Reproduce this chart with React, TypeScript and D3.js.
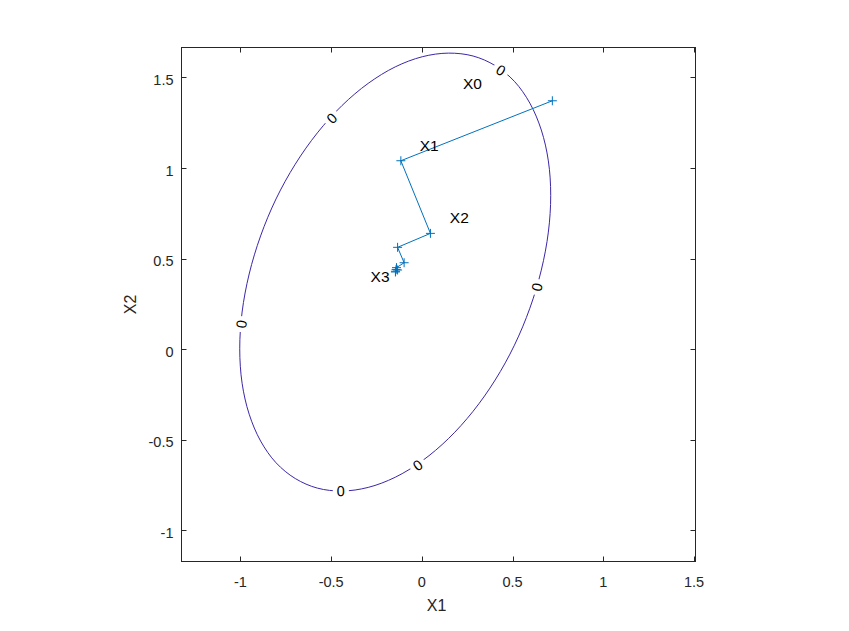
import React from 'react';
import * as d3 from 'd3';

const W = 849;
const H = 631;
const X_DOMAIN: [number, number] = [-1.325, 1.508];
const Y_DOMAIN: [number, number] = [-1.172, 1.665];
const X_TICKS = [-1, -0.5, 0, 0.5, 1, 1.5];
const Y_TICKS = [-1, -0.5, 0, 0.5, 1, 1.5];
const X_LABEL = 'X1';
const Y_LABEL = 'X2';

// contour line (level 0) vertices
const contourX = [0.710, 0.697, 0.658, 0.595, 0.510, 0.404, 0.282, 0.146, 0.002, -0.147, -0.296, -0.440,
  -0.576, -0.698, -0.804, -0.889, -0.952, -0.991, -1.004, -0.991, -0.952, -0.889, -0.804, -0.698,
  -0.576, -0.440, -0.296, -0.147, 0.002, 0.146, 0.282, 0.404, 0.510, 0.595, 0.658, 0.697];
const contourY = [0.849, 1.039, 1.210, 1.358, 1.478, 1.565, 1.618, 1.634, 1.614, 1.558, 1.467, 1.345,
  1.194, 1.021, 0.829, 0.625, 0.415, 0.205, 0.002, -0.188, -0.359, -0.507, -0.627, -0.714,
  -0.767, -0.783, -0.763, -0.707, -0.616, -0.494, -0.343, -0.170, 0.022, 0.226, 0.436, 0.646];
const contourLevelText = '0';
const contourLabelX = [0.435, -0.497, -0.995, -0.447, -0.023, 0.633];
const contourLabelY = [1.540, 1.275, 0.138, -0.783, -0.640, 0.343];

// iterates
const iterX = [0.719, -0.116, 0.047, -0.134, -0.098, -0.140, -0.134, -0.142, -0.145, -0.146];
const iterY = [1.371, 1.040, 0.639, 0.562, 0.477, 0.450, 0.437, 0.440, 0.430, 0.426];

const tagNames = ['X0', 'X1', 'X2', 'X3'];
const tagX = [0.226, -0.012, 0.154, -0.283];
const tagY = [1.469, 1.127, 0.726, 0.403];

const FONT = '"Liberation Sans", Arial, Helvetica, sans-serif';
const AX = '#262626';
const CONTOUR = '#3e26a8';
const LINE = '#0072bd';

export default function App() {
  const L = 181.5, R = 695.5, T = 47.5, B = 561.5;
  const x = d3.scaleLinear().domain(X_DOMAIN).range([L, R]);
  const y = d3.scaleLinear().domain(Y_DOMAIN).range([B, T]);

  const pts: [number, number][] = contourX.map((v, i) => [x(v), y(contourY[i])]);
  const contourPath = d3.line().curve(d3.curveCatmullRomClosed.alpha(0.5))(pts) || '';

  const n = pts.length;
  const labels = contourLabelX.map((lx, i) => {
    const px = x(lx), py = y(contourLabelY[i]);
    let best = 0, bd = Infinity;
    pts.forEach((p, j) => {
      const d = (p[0] - px) ** 2 + (p[1] - py) ** 2;
      if (d < bd) { bd = d; best = j; }
    });
    const a = pts[(best - 1 + n) % n], b = pts[(best + 1) % n];
    let ang = Math.atan2(b[1] - a[1], b[0] - a[0]) * 180 / Math.PI;
    if (ang > 90) ang -= 180;
    if (ang <= -90) ang += 180;
    return { px, py, ang };
  });

  const iterPts: [number, number][] = iterX.map((v, i) => [x(v), y(iterY[i])]);
  const iterPath = d3.line()(iterPts) || '';

  const tl = 5;
  return (
    <svg width={W} height={H} style={{ position: 'absolute', left: 0, top: 0, background: '#fff' }}
      fontFamily={FONT}>
      <rect x={0} y={0} width={W} height={H} fill="#fff" />
      <path d={contourPath} fill="none" stroke={CONTOUR} strokeWidth={1} />
      {labels.map((l, i) => (
        <g key={'cl' + i} transform={`translate(${l.px},${l.py}) rotate(${l.ang})`}>
          <rect x={-8} y={-6} width={16} height={12} fill="#fff" />
          <text x={0} y={0} dy="0.36em" textAnchor="middle" fontSize={14.5} fill="#000">{contourLevelText}</text>
        </g>
      ))}
      <path d={iterPath} fill="none" stroke={LINE} strokeWidth={1} />
      {iterPts.map((p, i) => (
        <g key={'m' + i} stroke={LINE} strokeWidth={1}>
          <line x1={p[0] - 4.5} x2={p[0] + 4.5} y1={p[1]} y2={p[1]} />
          <line x1={p[0]} x2={p[0]} y1={p[1] - 4.5} y2={p[1] + 4.5} />
        </g>
      ))}
      {tagNames.map((t, i) => (
        <text key={'t' + i} x={x(tagX[i])} y={y(tagY[i])} dy="0.36em" fontSize={15.5} fill="#000">{t}</text>
      ))}
      {/* axes box */}
      <rect x={L} y={T} width={R - L} height={B - T} fill="none" stroke={AX} strokeWidth={1} />
      {X_TICKS.map((t) => (
        <g key={'xt' + t} stroke={AX}>
          <line x1={Math.round(x(t)) + 0.5} x2={Math.round(x(t)) + 0.5} y1={B} y2={B - tl} />
          <line x1={Math.round(x(t)) + 0.5} x2={Math.round(x(t)) + 0.5} y1={T} y2={T + tl} />
        </g>
      ))}
      {Y_TICKS.map((t) => (
        <g key={'yt' + t} stroke={AX}>
          <line x1={L} x2={L + tl} y1={Math.round(y(t)) + 0.5} y2={Math.round(y(t)) + 0.5} />
          <line x1={R} x2={R - tl} y1={Math.round(y(t)) + 0.5} y2={Math.round(y(t)) + 0.5} />
        </g>
      ))}
      {X_TICKS.map((t) => (
        <text key={'xl' + t} x={x(t)} y={586.5} textAnchor="middle" fontSize={14.5} fill={AX}>{String(t)}</text>
      ))}
      {Y_TICKS.map((t) => (
        <text key={'yl' + t} x={173.5} y={y(t) + 2.5} dy="0.36em" textAnchor="end" fontSize={14.5} fill={AX}>{String(t)}</text>
      ))}
      <text x={(L + R) / 2 - 2} y={611} textAnchor="middle" fontSize={16} fill={AX}>{X_LABEL}</text>
      <text transform={`translate(136,${(T + B) / 2}) rotate(-90)`} textAnchor="middle" fontSize={16} fill={AX}>{Y_LABEL}</text>
    </svg>
  );
}
